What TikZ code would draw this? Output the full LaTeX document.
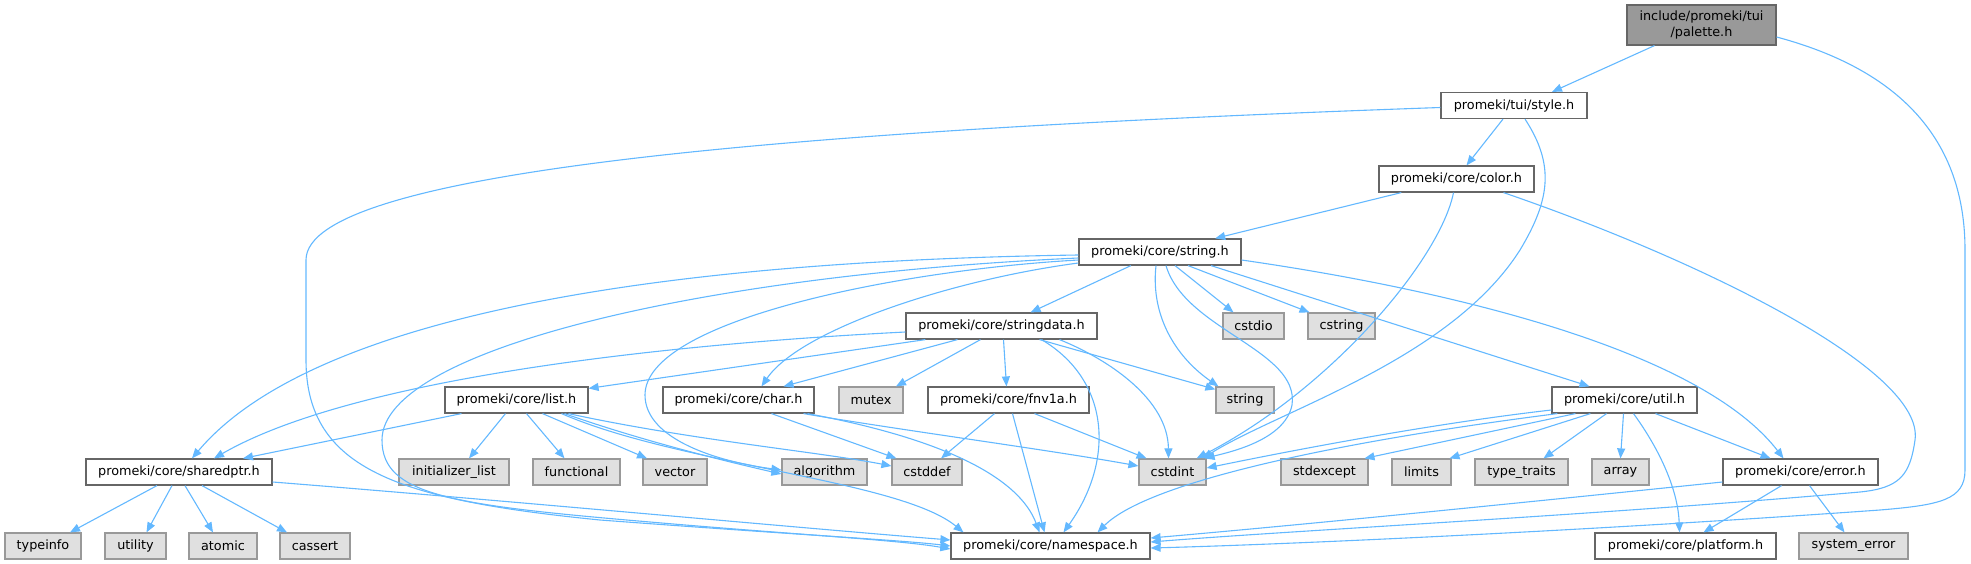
\documentclass[tikz,border=0pt]{standalone}
\usepackage{fontspec}
\setmainfont{DejaVu Sans}
\usetikzlibrary{arrows.meta}
\definecolor{edgeblue}{HTML}{63B8FF}
\definecolor{boxborder}{HTML}{666666}
\definecolor{leafborder}{HTML}{999999}
\definecolor{leaffill}{HTML}{E0E0E0}
\definecolor{rootfill}{HTML}{999999}
\tikzset{
  hdr/.style={draw=boxborder, fill=white, line width=1.2pt, minimum height=26pt, inner sep=0pt,
              font=\fontsize{12.8}{15.5}\selectfont, text=black},
  leaf/.style={hdr, draw=leafborder, fill=leaffill},
  root/.style={hdr, fill=rootfill, minimum height=40pt, align=center},
  dep/.style={draw=edgeblue, line width=1.1pt, -{Triangle[length=10pt,width=8pt]}},
}
\begin{document}
\begin{tikzpicture}[x=1pt,y=-1pt]
\useasboundingbox (0,0) rectangle (1971,564);
% nodes
\node[root, minimum width=149pt] (palette) at (1701.5,25) {include/promeki/tui\\/palette.h};
\node[hdr, minimum width=146pt] (style) at (1514,105.5) {promeki/tui/style.h};
\node[hdr, minimum width=155pt] (color) at (1456.5,179) {promeki/core/color.h};
\node[hdr, minimum width=162pt] (string) at (1160,252) {promeki/core/string.h};
\node[hdr, minimum width=191pt] (stringdata) at (1001.5,326) {promeki/core/stringdata.h};
\node[leaf, minimum width=61pt] (cstdio) at (1253.5,326) {cstdio};
\node[leaf, minimum width=67pt] (cstring) at (1341.5,326) {cstring};
\node[hdr, minimum width=143pt] (list) at (516.5,400) {promeki/core/list.h};
\node[hdr, minimum width=151pt] (char) at (738.5,400) {promeki/core/char.h};
\node[leaf, minimum width=64pt] (mutex) at (871,400) {mutex};
\node[hdr, minimum width=161pt] (fnv) at (1008.5,400) {promeki/core/fnv1a.h};
\node[leaf, minimum width=58pt] (stdstring) at (1245,400) {string};
\node[hdr, minimum width=145pt] (util) at (1624.5,400) {promeki/core/util.h};
\node[hdr, minimum width=186pt] (sharedptr) at (179,472) {promeki/core/sharedptr.h};
\node[leaf, minimum width=110pt] (initlist) at (454,472) {initializer\_list};
\node[leaf, minimum width=87pt] (functional) at (576.5,472) {functional};
\node[leaf, minimum width=64pt] (vector) at (675,472) {vector};
\node[leaf, minimum width=85pt] (algorithm) at (824.5,472) {algorithm};
\node[leaf, minimum width=70pt] (cstddef) at (927,472) {cstddef};
\node[leaf, minimum width=67pt] (cstdint) at (1172.5,472) {cstdint};
\node[leaf, minimum width=87pt] (stdexcept) at (1324.5,472) {stdexcept};
\node[leaf, minimum width=59pt] (limits) at (1421.5,472) {limits};
\node[leaf, minimum width=93pt] (typetraits) at (1521.5,472) {type\_traits};
\node[leaf, minimum width=57pt] (array) at (1620.5,472) {array};
\node[hdr, minimum width=155pt] (error) at (1800.5,472) {promeki/core/error.h};
\node[leaf, minimum width=76pt] (typeinfo) at (43,546) {typeinfo};
\node[leaf, minimum width=61pt] (utility) at (135.5,546) {utility};
\node[leaf, minimum width=68pt] (atomic) at (223,546) {atomic};
\node[leaf, minimum width=70pt] (cassert) at (315,546) {cassert};
\node[hdr, minimum width=199pt] (namespace) at (1050.5,546) {promeki/core/namespace.h};
\node[hdr, minimum width=181pt] (platform) at (1685.5,546) {promeki/core/platform.h};
\node[leaf, minimum width=109pt] (syserror) at (1853.5,546) {system\_error};
% edges: palette
\draw[dep] ([xshift=-47pt]palette.south) -- ([xshift=38pt]style.north);
\draw[dep] ([yshift=-12pt]palette.east) .. controls (1900,70) and (1965,140) .. (1965,250) -- (1965,470) .. controls (1965,500) and (1940,505) .. (1880,510) .. controls (1600,530) and (1300,544) .. ([yshift=-2pt]namespace.east);
% style
\draw[dep] ([xshift=-11pt]style.south) -- ([xshift=10pt]color.north);
\draw[dep] ([yshift=-2pt]style.west) .. controls (800,130) and (306,170) .. (306,260) -- (306,360) .. controls (306,470) and (400,500) .. (600,520) .. controls (800,535) and (900,540) .. (namespace.west);
\draw[dep] ([xshift=11pt]style.south) .. controls (1555,165) and (1550,200) .. (1520,250) .. controls (1450,360) and (1280,410) .. ([xshift=-4pt]cstdint.north east);
% color
\draw[dep] (color) -- (string);
\draw[dep] ([xshift=-3pt]color.south) .. controls (1440,260) and (1330,390) .. ([xshift=-10pt]cstdint.north east);
\draw[dep] ([xshift=47pt]color.south) .. controls (1700,260) and (1925,370) .. (1915,440) .. controls (1910,475) and (1900,488) .. (1860,492) .. controls (1600,515) and (1300,530) .. ([yshift=4pt]namespace.east);
% string
\draw[dep] (string) -- (stringdata);
\draw[dep] ([yshift=-3pt]string.west) .. controls (600,262) and (300,330) .. ([xshift=13pt]sharedptr.north);
\draw[dep] ([yshift=-6pt]string.west) .. controls (700,275) and (382,350) .. (382,440) .. controls (382,495) and (450,505) .. (650,522) .. controls (800,535) and (900,540) .. ([yshift=-3pt]namespace.west);
\draw[dep] ([yshift=-8pt]string.west) .. controls (900,270) and (645,320) .. (645,395) .. controls (645,440) and (720,462) .. ([yshift=2pt]algorithm.west);
\draw[dep] ([yshift=-11pt]string.west) .. controls (950,280) and (800,330) .. ([xshift=23pt]char.north);
\draw[dep] ([xshift=-4pt]string.south) .. controls (1150,320) and (1180,360) .. ([xshift=3pt]stdstring.north west);
\draw[dep] ([xshift=6pt]string.south) .. controls (1185,330) and (1300,350) .. (1292,405) .. controls (1285,440) and (1230,452) .. ([xshift=-2pt]cstdint.north east);
\draw[dep] ([xshift=15pt]string.south) -- ([xshift=-20pt]cstdio.north);
\draw[dep] ([xshift=28pt]string.south) -- ([xshift=-32pt]cstring.north);
\draw[dep] ([xshift=51pt]string.south) -- ([xshift=-35pt]util.north);
\draw[dep] ([yshift=-8pt]string.east) .. controls (1450,290) and (1700,350) .. ([xshift=-17pt]error.north);
% stringdata
\draw[dep] ([xshift=20pt]stringdata.south west) -- ([yshift=-2pt]list.north east);
\draw[dep] ([yshift=-6pt]stringdata.west) .. controls (650,345) and (350,380) .. ([xshift=35pt]sharedptr.north);
\draw[dep] ([xshift=-44pt]stringdata.south) -- ([xshift=45pt]char.north);
\draw[dep] ([xshift=-21pt]stringdata.south) -- ([xshift=25pt]mutex.north);
\draw[dep] ([xshift=2pt]stringdata.south) -- ([xshift=-2pt]fnv.north);
\draw[dep] ([xshift=38pt]stringdata.south) -- ([yshift=-3pt]stdstring.north west);
\draw[dep] ([xshift=58pt]stringdata.south) .. controls (1110,360) and (1168,400) .. ([xshift=-4pt]cstdint.north);
\draw[dep] ([xshift=40pt]stringdata.south) .. controls (1110,380) and (1115,460) .. ([xshift=13pt]namespace.north);
% list
\draw[dep] ([xshift=-55pt]list.south) -- ([xshift=64pt]sharedptr.north);
\draw[dep] ([xshift=-11pt]list.south) -- ([xshift=15pt]initlist.north);
\draw[dep] ([xshift=10pt]list.south) -- ([xshift=-12pt]functional.north);
\draw[dep] ([xshift=26pt]list.south) -- ([xshift=-28pt]vector.north);
\draw[dep] ([xshift=48pt]list.south) .. controls (640,440) and (720,460) .. ([yshift=-2pt]algorithm.west);
\draw[dep] ([xshift=52pt]list.south) .. controls (690,440) and (820,452) .. ([yshift=6pt]cstddef.west);
\draw[dep] ([xshift=45pt]list.south) .. controls (680,465) and (900,480) .. ([xshift=-87pt]namespace.north);
% char
\draw[dep] ([xshift=33pt]char.south) -- ([xshift=5pt]cstddef.north west);
\draw[dep] ([xshift=65pt]char.south) .. controls (900,430) and (1050,450) .. ([yshift=6pt]cstdint.west);
\draw[dep] ([xshift=69pt]char.south) .. controls (950,440) and (1020,480) .. ([xshift=-11pt]namespace.north);
% fnv1a
\draw[dep] ([xshift=-14pt]fnv.south) -- ([xshift=14pt]cstddef.north);
\draw[dep] ([xshift=4pt]fnv.south) -- ([xshift=-6pt]namespace.north);
\draw[dep] ([xshift=26pt]fnv.south) -- ([xshift=-26pt]cstdint.north);
% util
\draw[dep] ([yshift=-10pt]util.west) .. controls (1420,425) and (1270,455) .. ([yshift=4pt]cstdint.east);
\draw[dep] ([xshift=6pt]util.south west) .. controls (1350,440) and (1150,480) .. ([xshift=47pt]namespace.north);
\draw[dep] ([xshift=24pt]util.south west) -- ([xshift=40pt]stdexcept.north);
\draw[dep] ([xshift=39pt]util.south west) -- ([xshift=28pt]limits.north);
\draw[dep] ([xshift=-18pt]util.south) -- ([xshift=22pt]typetraits.north);
\draw[dep] ([xshift=-1pt]util.south) -- (array.north);
\draw[dep] ([xshift=9pt]util.south) .. controls (1660,450) and (1678,490) .. ([xshift=-6pt]platform.north);
\draw[dep] ([xshift=31pt]util.south) -- ([xshift=-30pt]error.north);
% error
\draw[dep] ([yshift=-10pt]error.west) .. controls (1500,505) and (1300,525) .. ([yshift=8pt]namespace.east);
\draw[dep] ([xshift=-19pt]error.south) -- ([xshift=18pt]platform.north);
\draw[dep] ([xshift=9pt]error.south) -- ([xshift=-9pt]syserror.north);
% sharedptr
\draw[dep] ([xshift=-22pt]sharedptr.south) -- ([xshift=27pt]typeinfo.north);
\draw[dep] ([xshift=-7pt]sharedptr.south) -- ([xshift=11pt]utility.north);
\draw[dep] ([xshift=6pt]sharedptr.south) -- ([xshift=-10pt]atomic.north);
\draw[dep] ([xshift=23pt]sharedptr.south) -- ([xshift=-28pt]cassert.north);
\draw[dep] ([yshift=-10pt]sharedptr.east) .. controls (500,500) and (800,528) .. ([yshift=6pt]namespace.west);
\end{tikzpicture}
\end{document}
